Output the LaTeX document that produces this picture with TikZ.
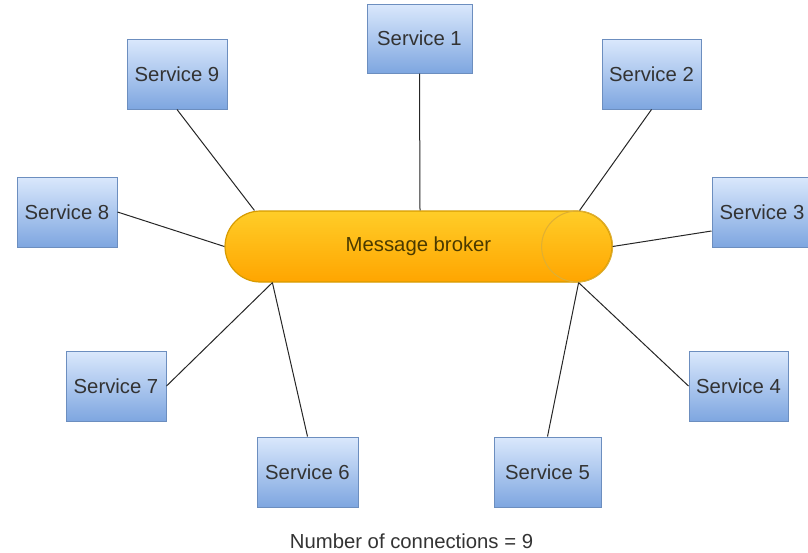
\documentclass[tikz,border=0pt]{standalone}
\usepackage{fontspec}
\setmainfont{Liberation Sans}
\usetikzlibrary{calc}

\definecolor{svcTop}{HTML}{DAE8FC}
\definecolor{svcBot}{HTML}{7EA6E0}
\definecolor{svcLine}{HTML}{6C8EBF}
\definecolor{brkTop}{HTML}{FFCD28}
\definecolor{brkBot}{HTML}{FFA500}
\definecolor{brkLine}{HTML}{D79B00}
\definecolor{ink}{HTML}{333333}
\definecolor{brkInk}{HTML}{4A3A00}

\tikzset{
  service/.style={draw=svcLine, line width=1pt, top color=svcTop, bottom color=svcBot,
    minimum width=100pt, minimum height=70pt, inner sep=0pt, text=ink,
    font=\fontsize{20.3}{24}\selectfont},
  link/.style={draw=black!85, line width=1pt},
  broker/.style={draw=brkLine, line width=1.2pt, top color=brkTop, bottom color=brkBot,
    rounded corners=35.5pt, minimum width=387pt, minimum height=71pt, inner sep=0pt,
    text=brkInk, font=\fontsize{20.3}{24}\selectfont},
}

\begin{document}
\begin{tikzpicture}[x=1pt, y=-1pt]
  \useasboundingbox (0,0) rectangle (808,552);

  % central broker (horizontal cylinder)
  \node[broker] (broker) at (418.5,246.5) {Message broker};
  \node[circle, draw=brkLine!80, line width=1pt, minimum size=71pt, inner sep=0pt]
    (cap) at ([xshift=-35.5pt]broker.east) {};

  % attachment points on the broker
  \coordinate (bNW) at ([xshift=30pt]broker.north west);
  \coordinate (bN)  at ([xshift=1.5pt]broker.north);
  \coordinate (bNE) at ([xshift=-33pt]broker.north east);
  \coordinate (bSW) at ([xshift=48pt]broker.south west);
  \coordinate (bSE) at ([xshift=-34pt]broker.south east);

  % services
  \node[service, minimum width=105pt, minimum height=69pt] (s1) at (419.5,38.5) {Service 1};
  \node[service, minimum width=99pt] (s2) at (651.5,74) {Service 2};
  \node[service] (s3) at (762,212) {Service 3};
  \node[service, minimum width=99pt] (s4) at (738.5,386) {Service 4};
  \node[service, minimum width=107pt] (s5) at (547.5,472) {Service 5};
  \node[service, minimum width=101pt] (s6) at (307.5,472) {Service 6};
  \node[service] (s7) at (116,386) {Service 7};
  \node[service] (s8) at (67,212) {Service 8};
  \node[service] (s9) at (177,74) {Service 9};

  % connections
  \draw[link] (s1.south) -- (bN);
  \draw[link] (s2.south) -- (bNE);
  \draw[link] ([yshift=-19pt]s3.west) -- (broker.east);
  \draw[link] (s4.west) -- (bSE);
  \draw[link] (s5.north) -- (bSE);
  \draw[link] (s6.north) -- (bSW);
  \draw[link] (s7.east) -- (bSW);
  \draw[link] (s8.east) -- (broker.west);
  \draw[link] (s9.south) -- (bNW);

  % caption
  \node[text=ink, font=\fontsize{20.3}{24}\selectfont] (caption) at (411.5,541) {Number of connections = 9};
\end{tikzpicture}
\end{document}
